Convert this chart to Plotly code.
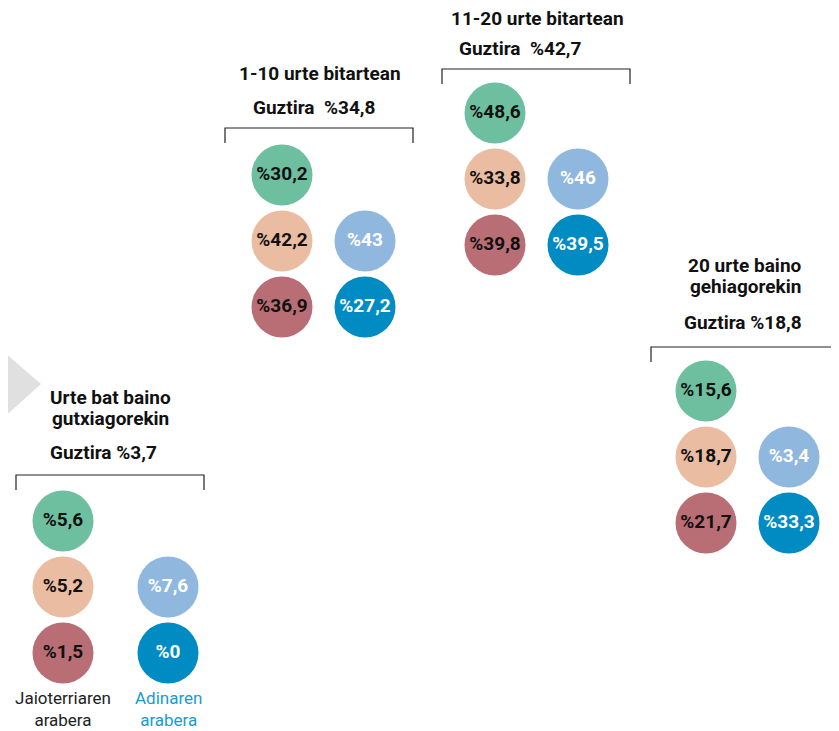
import plotly.graph_objects as go

# Data
groups = [["Urte bat baino", "gutxiagorekin"], ["1-10 urte bitartean"],
          ["11-20 urte bitartean"], ["20 urte baino", "gehiagorekin"]]
totals = ["3,7", "34,8", "42,7", "18,8"]
# by birthplace (3 circles per group: green, peach, mauve)
jaioterria = [["5,6", "5,2", "1,5"],
              ["30,2", "42,2", "36,9"],
              ["48,6", "33,8", "39,8"],
              ["15,6", "18,7", "21,7"]]
# by age (2 circles per group: light blue, blue)
adina = [["7,6", "0"],
         ["43", "27,2"],
         ["46", "39,5"],
         ["3,4", "33,3"]]

# Layout of each group block (pixels, left column center / top row center)
col_x = [63, 282, 495, 706]
col_gap = [105, 83, 83, 83]
row_y = [521, 175, 113, 391]
row_gap = 66
bracket = [(16, 204, 475), (225, 413, 128), (442, 630, 69), (651, 839, 347)]
title_pos = [(110, 397), (320, 73), (537, 18), (745, 265)]
line_gap = 21
total_pos = [(103, 452), (314, 107), (520, 48), (743, 322)]
total_sep = [" ", "&nbsp; ", "&nbsp; ", " "]

jai_colors = ["#6ebfa0", "#eabda3", "#b96d74"]
adi_colors = ["#90b7dd", "#008bc3"]

PAD = 8  # page body margin

fig = go.Figure()

for k in range(3):
    fig.add_trace(go.Scatter(
        x=[col_x[g] for g in range(4)],
        y=[row_y[g] + k * row_gap for g in range(4)],
        text=["%" + jaioterria[g][k] for g in range(4)],
        mode="markers+text",
        marker=dict(size=61, color=jai_colors[k], line=dict(width=0)),
        textfont=dict(family="Roboto", size=19, color="#111111", weight="bold"),
        textposition="middle center", hoverinfo="skip", showlegend=False))

for k in range(2):
    fig.add_trace(go.Scatter(
        x=[col_x[g] + col_gap[g] for g in range(4)],
        y=[row_y[g] + (k + 1) * row_gap for g in range(4)],
        text=["%" + adina[g][k] for g in range(4)],
        mode="markers+text",
        marker=dict(size=61, color=adi_colors[k], line=dict(width=0)),
        textfont=dict(family="Roboto", size=19, color="white", weight="bold"),
        textposition="middle center", hoverinfo="skip", showlegend=False))

shapes = []
# grey arrow on the left
shapes.append(dict(type="path", path="M -10 340 L 41 384 L -10 430 Z",
                   fillcolor="#e0e0e0", line=dict(width=0), layer="below"))
for (x0, x1, yb) in bracket:
    shapes.append(dict(type="path",
                       path=f"M {x0} {yb+15} L {x0} {yb} L {x1} {yb} L {x1} {yb+15}",
                       line=dict(color="#222222", width=1.2)))

annotations = []
for g in range(4):
    for i, line in enumerate(groups[g]):
        annotations.append(dict(x=title_pos[g][0], y=title_pos[g][1] + i * line_gap, text=line,
                                showarrow=False, xanchor="center", yanchor="middle",
                                font=dict(family="Roboto", size=19, color="#111111", weight="bold")))
    annotations.append(dict(x=total_pos[g][0], y=total_pos[g][1],
                            text="Guztira" + total_sep[g] + "%" + totals[g],
                            showarrow=False, xanchor="center", yanchor="middle",
                            font=dict(family="Roboto", size=19, color="#111111", weight="bold")))

for txt, xx, col in [("Jaioterriaren<br>arabera", 63, "#222222"),
                     ("Adinaren<br>arabera", 168, "#1a9ad0")]:
    annotations.append(dict(x=xx, y=709, text=txt, showarrow=False,
                            xanchor="center", yanchor="middle",
                            font=dict(family="Roboto", size=17, color=col)))

fig.update_layout(
    width=839 - PAD, height=731 - PAD,
    margin=dict(l=0, r=0, t=0, b=0),
    paper_bgcolor="white", plot_bgcolor="white",
    xaxis=dict(range=[PAD, 839], visible=False, fixedrange=True),
    yaxis=dict(range=[731, PAD], visible=False, fixedrange=True),
    shapes=shapes, annotations=annotations,
)

fig.write_html("out.html")
